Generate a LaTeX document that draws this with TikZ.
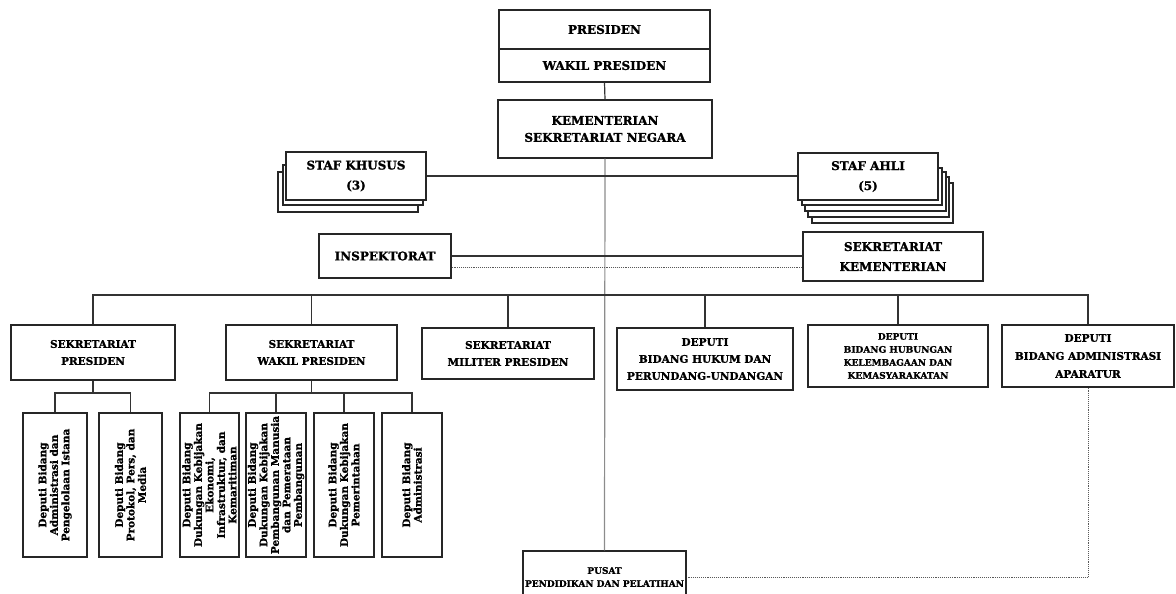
\documentclass[tikz,border=0pt]{standalone}
\usepackage{fontspec}
\setmainfont{DejaVu Serif}[BoldFeatures={FakeBold=1.2}]
\tikzset{
  unit/.style={draw=black!85, line width=1.2pt, fill=white, inner sep=0pt, align=center,
    font=\bfseries\fontsize{12}{17}\selectfont},
  staf/.style={unit, font=\bfseries\fontsize{12}{20}\selectfont},
  subunit/.style={unit, font=\bfseries\fontsize{10.5}{17}\selectfont},
  deputi/.style={unit, rotate=90, minimum width=144, minimum height=60,
    font=\bfseries\fontsize{10.5}{11.5}\selectfont},
  stack/.style={draw=black!85, line width=1.2pt, fill=white},
  link/.style={draw=black!80, line width=1.2pt},
  spine/.style={draw=black!45, line width=1.2pt},
  dotline/.style={draw=black!65, line width=0.9pt, densely dotted}
}
\begin{document}
\begin{tikzpicture}[x=1pt,y=-1pt]
\useasboundingbox (0,0) rectangle (1176,594);

% pimpinan
\node [unit, minimum width=211, minimum height=39] (presiden) at (604.5,29.5) {PRESIDEN};
\node [unit, minimum width=211, minimum height=33] (wapres) at (604.5,65.5) {WAKIL PRESIDEN};
\node [unit, minimum width=214, minimum height=58] (setneg) at (605,129) {KEMENTERIAN\\SEKRETARIAT NEGARA};

% staf khusus dan staf ahli
\draw [stack] (278,172) rectangle (418,212);
\draw [stack] (283,165) rectangle (423,205);
\node [staf, minimum width=140, minimum height=48] (khusus) at (356,176) {STAF KHUSUS\\(3)};

\foreach \a/\b/\c/\d in {812/183/953/223, 808/177/949/217, 805/172/946/211, 802/168/942/205}
  \draw [stack] (\a,\b) rectangle (\c,\d);
\node [staf, minimum width=140, minimum height=47] (ahli) at (868,176.5) {STAF AHLI\\(5)};

\node [unit, minimum width=132, minimum height=44] (inspektorat) at (385,256) {INSPEKTORAT};
\node [staf, minimum width=180, minimum height=49] (setkemen) at (893,256.5) {SEKRETARIAT\\KEMENTERIAN};

% garis tengah
\node [unit, minimum width=163, minimum height=52, font=\bfseries\fontsize{9}{13}\selectfont]
  (pusat) at (604.5,577) {PUSAT\\PENDIDIKAN DAN PELATIHAN};
\draw [spine] (setneg.south) -- (pusat.north);

\draw [link] (wapres.south) -- (setneg.north);
\draw [link] (khusus.east) -- (khusus.east -| ahli.west);
\draw [link] (inspektorat.east) -- (inspektorat.east -| setkemen.west);
\coordinate (dotl) at ([yshift=-11pt]inspektorat.east);
\draw [dotline] (dotl) -- (dotl -| setkemen.west);

% deputi dan sekretariat
\node [subunit, minimum width=164, minimum height=55] (sekpres) at (93,352.5) {SEKRETARIAT\\PRESIDEN};
\node [subunit, minimum width=171, minimum height=55] (sekwapres) at (311.5,352.5) {SEKRETARIAT\\WAKIL PRESIDEN};
\node [subunit, minimum width=172, minimum height=51] (sekmil) at (508,353.5) {SEKRETARIAT\\MILITER PRESIDEN};
\node [subunit, minimum width=176, minimum height=62] (hukum) at (705,359) {DEPUTI\\BIDANG HUKUM DAN\\PERUNDANG-UNDANGAN};
\node [subunit, minimum width=180, minimum height=62, font=\bfseries\fontsize{9}{13}\selectfont]
  (hubungan) at (898,356) {DEPUTI\\BIDANG HUBUNGAN\\KELEMBAGAAN DAN\\KEMASYARAKATAN};
\node [subunit, minimum width=172, minimum height=62, font=\bfseries\fontsize{10.5}{18}\selectfont]
  (aparatur) at (1088,356) {DEPUTI\\BIDANG ADMINISTRASI\\APARATUR};

\coordinate (bus) at (0,295);
\draw [link] (sekpres.north) |- (aparatur.north |- bus) -- (aparatur.north);
\foreach \n in {sekwapres,sekmil,hukum,hubungan}
  \draw [link] (\n.north) -- (\n.north |- bus);

\draw [dotline] (aparatur.south) |- (pusat.east);

% deputi di bawah sekretariat (teks tegak)
\node [deputi, minimum height=64] (dp1) at (55,485) {Deputi Bidang\\Administrasi dan\\Pengelolaan Istana};
\node [deputi, minimum height=63] (dp2) at (130.5,485) {Deputi Bidang\\Protokol, Pers, dan\\Media};
\node [deputi, minimum height=59] (dw1) at (209.5,485) {Deputi Bidang\\Dukungan Kebijakan\\Ekonomi,\\Infrastruktur, dan\\Kemaritiman};
\node [deputi] (dw2) at (276,485) {Deputi Bidang\\Dukungan Kebijakan\\Pembangunan Manusia\\dan Pemerataan\\Pembangunan};
\node [deputi] (dw3) at (344,485) {Deputi Bidang\\Dukungan Kebijakan\\Pemerintahan};
\node [deputi] (dw4) at (412,485) {Deputi Bidang\\Administrasi};

\coordinate (sub) at (0,393);
\draw [link] (sekpres.south) -- (sekpres.south |- sub);
\draw [link] (dp1.east) |- (dp2.east |- sub) -- (dp2.east);
\draw [link] (sekwapres.south) -- (sekwapres.south |- sub);
\draw [link] (dw1.east) |- (dw4.east |- sub) -- (dw4.east);
\foreach \n in {dw2,dw3}
  \draw [link] (\n.east) -- (\n.east |- sub);

\end{tikzpicture}
\end{document}
